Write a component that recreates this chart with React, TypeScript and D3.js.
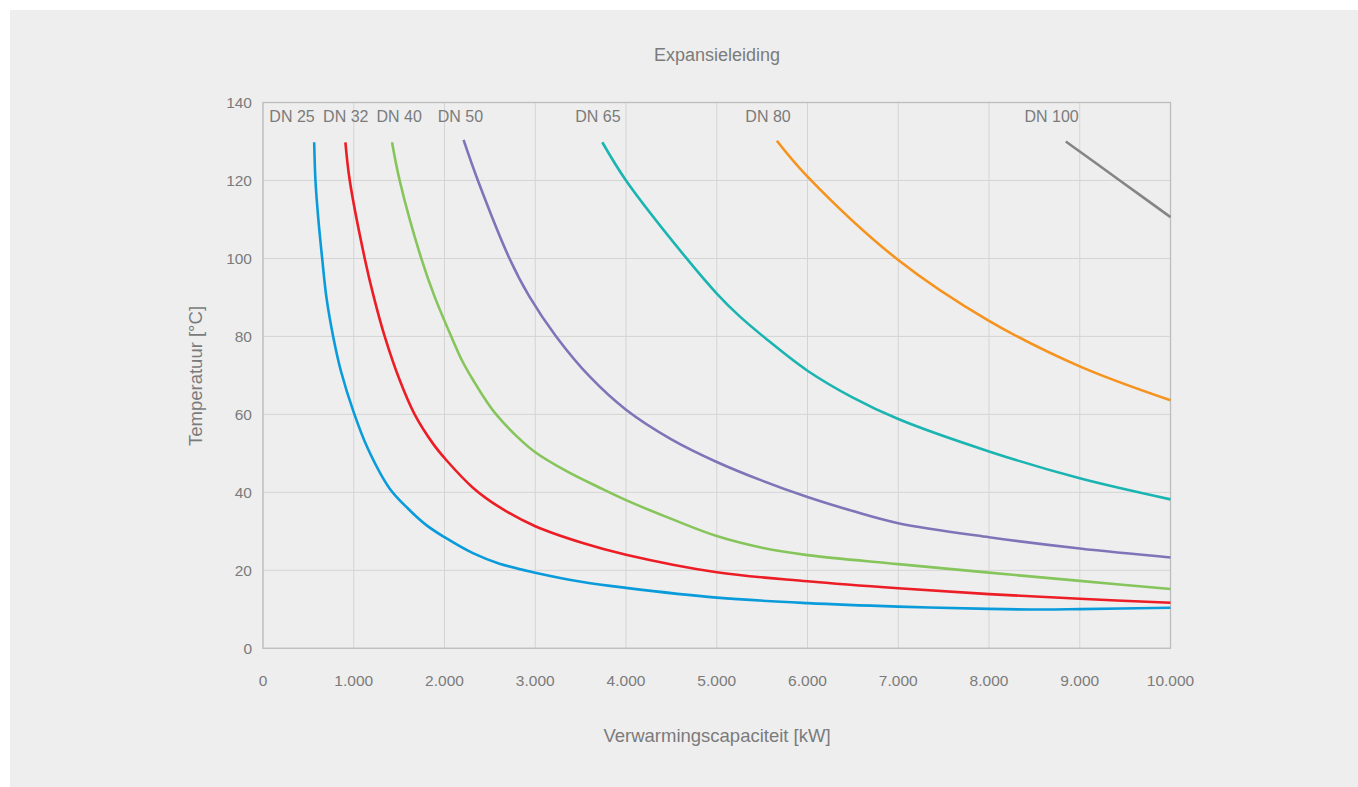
import React from "react";
import * as d3 from "d3";

const title = "Expansieleiding";
const xTitle = "Verwarmingscapaciteit [kW]";
const yTitle = "Temperatuur [°C]";

const xTicks = [0, 1000, 2000, 3000, 4000, 5000, 6000, 7000, 8000, 9000, 10000];
const yTicks = [0, 20, 40, 60, 80, 100, 120, 140];

const seriesNames = ["DN 25", "DN 32", "DN 40", "DN 50", "DN 65", "DN 80", "DN 100"];
const seriesColors = ["#0a9bdb", "#ec1d25", "#86c55b", "#7e75b9", "#1ab4b1", "#f6931e", "#858585"];
// label anchor (kW) for each series name
const labelX = [320, 912, 1500, 2175, 3690, 5565, 8690];

const dn25: [number, number][] = [
  [564, 129.8], [578, 120], [610, 110], [652, 100], [699, 90], [773, 80], [860, 71],
  [1000, 60.5], [1150, 51.5], [1395, 41], [1600, 35.8], [1800, 31.6], [2000, 28.5],
  [2313, 24.4], [2606, 21.7], [3000, 19.4], [3523, 17], [4000, 15.5], [5000, 13],
  [6000, 11.6], [7000, 10.7], [8000, 10.1], [8600, 9.95], [9000, 10.05], [10000, 10.4],
];
const dn32: [number, number][] = [
  [908, 129.8], [956, 120], [1121, 100], [1220, 90.2], [1341, 80], [1506, 68.8],
  [1671, 60], [1873, 52.5], [2019, 48.3], [2313, 41.2], [2606, 36.2], [3000, 31.3],
  [3523, 27], [4000, 24], [5000, 19.5], [6000, 17.2], [7000, 15.4], [8000, 13.9],
  [9000, 12.7], [10000, 11.7],
];
const dn40: [number, number][] = [
  [1422, 129.8], [1506, 120], [1744, 100], [1891, 90.2], [2074, 80], [2200, 73.5],
  [2331, 68.2], [2450, 63.8], [2569, 60], [2800, 54.3], [3000, 50.3], [3340, 45.5],
  [3700, 41.3], [4000, 38], [4500, 33.2], [5000, 28.8], [5500, 25.8], [6000, 23.9],
  [7000, 21.6], [8000, 19.4], [9000, 17.3], [10000, 15.2],
];
const dn50: [number, number][] = [
  [2210, 130.4], [2368, 120], [2716, 100], [2936, 90.2], [3230, 80], [3604, 69.6],
  [4000, 61.2], [4500, 53.6], [5000, 47.8], [5500, 43], [6000, 38.8], [6500, 35.2],
  [7000, 32.1], [8000, 28.5], [9000, 25.6], [10000, 23.3],
];
const dn65: [number, number][] = [
  [3739, 129.8], [4000, 120], [4668, 100], [5000, 91], [5250, 85.2], [5549, 79.3],
  [6000, 71.2], [6500, 64.3], [7000, 58.8], [8000, 50.5], [9000, 43.6], [10000, 38.2],
];
const dn80: [number, number][] = [
  [5662, 130.2], [6000, 121], [7000, 99.6], [8000, 84], [9000, 72.3], [10000, 63.6],
];
const dn100: [number, number][] = [
  [8846, 130], [9430, 120.2], [10000, 110.6],
];
const seriesData = [dn25, dn32, dn40, dn50, dn65, dn80, dn100];

const W = 1358;
const H = 787;
const M = { left: 263, right: 1170.5, top: 102.5, bottom: 648.3 };
const textColor = "#7b7b7b";
const font = "'Liberation Sans', Arial, sans-serif";

export default function App() {
  const x = d3.scaleLinear().domain([0, 10000]).range([M.left, M.right]);
  const y = d3.scaleLinear().domain([0, 140]).range([M.bottom, M.top]);
  const line = d3
    .line<[number, number]>()
    .x((d) => x(d[0]))
    .y((d) => y(d[1]))
    .curve(d3.curveCatmullRom.alpha(0.5));
  const fmt = (v: number) => (v === 0 ? "0" : d3.format(",")(v).replace(/,/g, "."));

  return (
    <svg
      width={W}
      height={H}
      style={{ position: "absolute", left: 0, top: 0, fontFamily: font }}
    >
      <rect x={0} y={0} width={W} height={H} fill="#ffffff" />
      <rect x={10} y={10} width={W - 10} height={H - 10} fill="#eeeeee" />

      {/* grid */}
      {xTicks.map((t) => (
        <line key={"gx" + t} x1={x(t)} x2={x(t)} y1={y(140)} y2={y(0)} stroke="#d4d4d4" strokeWidth={1} />
      ))}
      {yTicks.map((t) => (
        <line key={"gy" + t} x1={x(0)} x2={x(10000)} y1={y(t)} y2={y(t)} stroke="#d4d4d4" strokeWidth={1} />
      ))}
      {/* frame */}
      <rect
        x={x(0)}
        y={y(140)}
        width={x(10000) - x(0)}
        height={y(0) - y(140)}
        fill="none"
        stroke="#bdbdbd"
        strokeWidth={1.3}
      />

      {/* tick labels */}
      {xTicks.map((t) => (
        <text key={"tx" + t} x={x(t)} y={686} textAnchor="middle" fontSize={15.5} fill={textColor}>
          {fmt(t)}
        </text>
      ))}
      {yTicks.map((t) => (
        <text key={"ty" + t} x={252} y={y(t) + 5.6} textAnchor="end" fontSize={15.5} fill={textColor}>
          {t}
        </text>
      ))}

      {/* series */}
      {seriesData.map((s, i) => (
        <path key={"s" + i} d={line(s) || ""} fill="none" stroke={seriesColors[i]} strokeWidth={2.6} />
      ))}
      {seriesNames.map((n, i) => (
        <text key={"l" + i} x={x(labelX[i])} y={122} textAnchor="middle" fontSize={16} fill={textColor}>
          {n}
        </text>
      ))}

      {/* titles */}
      <text x={717} y={61} textAnchor="middle" fontSize={18} fill={textColor}>
        {title}
      </text>
      <text x={717} y={741.5} textAnchor="middle" fontSize={18.5} fill={textColor}>
        {xTitle}
      </text>
      <text
        transform={`translate(201.5,376) rotate(-90)`}
        textAnchor="middle"
        fontSize={18.5}
        fill={textColor}
      >
        {yTitle}
      </text>
    </svg>
  );
}
